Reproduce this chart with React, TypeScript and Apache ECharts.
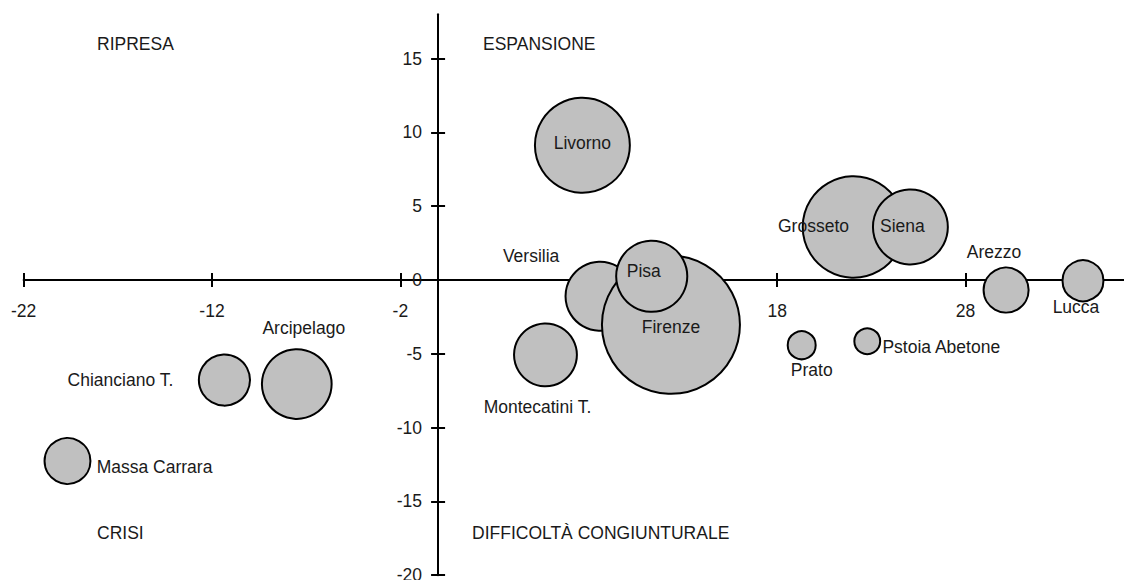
import React, { useEffect, useRef } from "react";
import * as echarts from "echarts";

const names = [
  "Livorno", "Montecatini T.", "Versilia", "Firenze", "Pisa", "Grosseto", "Siena",
  "Arezzo", "Lucca", "Prato", "Pstoia Abetone", "Chianciano T.", "Arcipelago", "Massa Carrara",
];
const xValues = [7.66, 5.7, 8.6, 12.36, 11.34, 22.05, 25.07, 30.15, 34.23, 19.3, 22.78, -11.34, -7.5, -19.67];
const yValues = [9.13, -5.07, -1.1, -3.04, 0.25, 3.59, 3.59, -0.68, -0.05, -4.42, -4.15, -6.78, -7.05, -12.26];
const weights = [230, 102, 123, 483, 130, 263, 144, 53, 44, 21, 18, 68, 125, 55];

const xTicks = [-22, -12, -2, 8, 18, 28];
const yTicks = [-20, -15, -10, -5, 0, 5, 10, 15];

const quadrantLabels = ["RIPRESA", "ESPANSIONE", "CRISI", "DIFFICOLTÀ CONGIUNTURALE"];

// label placement (layout, px offsets from bubble centre)
const labelOffsets: Record<string, [number, number]> = {
  "Livorno": [0, -2],
  "Montecatini T.": [-8, 52],
  "Versilia": [-69, -40],
  "Firenze": [0, 2],
  "Pisa": [-8, -5],
  "Grosseto": [-40, -1],
  "Siena": [-8, -1],
  "Arezzo": [-12, -38],
  "Lucca": [-7, 26],
  "Prato": [10, 25],
  "Pstoia Abetone": [74, 6],
  "Chianciano T.": [-104, 0],
  "Arcipelago": [7, -56],
  "Massa Carrara": [87, 6],
};

const FONT = "'Liberation Sans', Arial, sans-serif";
const FS = 17.5;
const TXT = "#1a1a1a";

// layout
const W = 1160, H = 580;
const X_MIN = -22, X_MAX = 38, Y_MIN = -20, Y_MAX = 18;
const G_LEFT = 23.6, G_RIGHT = 6, G_TOP = 14.3, G_BOTTOM = 4.8;

export default function App() {
  const ref = useRef<HTMLDivElement>(null);
  useEffect(() => {
    document.body.style.margin = "0";
    if (!ref.current) return;
    const chart = echarts.init(ref.current, undefined, { renderer: "svg" });
    const gw = W - G_LEFT - G_RIGHT;
    const gh = H - G_TOP - G_BOTTOM;
    const xOffset = -((0 - Y_MIN) / (Y_MAX - Y_MIN)) * gh; // move x axis up to y=0
    const yOffset = -((0 - X_MIN) / (X_MAX - X_MIN)) * gw; // move y axis right to x=0
    const tickStyle = { color: "#000", width: 2 };
    const data = names.map((n, i) => ({
      name: n,
      value: [xValues[i], yValues[i]],
      symbolSize: 2 * Math.sqrt(weights[i] * 10) - 1,
      label: {
        show: true,
        position: "inside",
        offset: labelOffsets[n],
        formatter: n,
      },
    }));
    chart.setOption({
      animation: false,
      grid: { left: G_LEFT, right: G_RIGHT, top: G_TOP, bottom: G_BOTTOM, outerBoundsMode: "none", containLabel: false },
      textStyle: { fontFamily: FONT },
      xAxis: [
        {
          type: "value", min: X_MIN, max: X_MAX, position: "bottom", offset: xOffset,
          axisLine: { show: true, onZero: false, lineStyle: { color: "#000", width: 2 } },
          splitLine: { show: false },
          axisTick: { show: true, inside: false, length: 7, customValues: xTicks, lineStyle: tickStyle },
          axisLabel: { show: true, customValues: xTicks, margin: 22, fontSize: FS, fontFamily: FONT, color: TXT },
        },
        {
          type: "value", min: X_MIN, max: X_MAX, position: "bottom", offset: xOffset,
          axisLine: { show: false, onZero: false },
          splitLine: { show: false },
          axisTick: { show: true, inside: true, length: 7, customValues: xTicks, lineStyle: tickStyle },
          axisLabel: { show: false },
        },
      ],
      yAxis: [
        {
          type: "value", min: Y_MIN, max: Y_MAX, position: "left", offset: yOffset,
          axisLine: { show: true, onZero: false, lineStyle: { color: "#000", width: 2 } },
          splitLine: { show: false },
          axisTick: { show: true, inside: false, length: 7, customValues: yTicks, lineStyle: tickStyle },
          axisLabel: { show: true, customValues: yTicks, margin: 16, fontSize: FS, fontFamily: FONT, color: TXT },
        },
        {
          type: "value", min: Y_MIN, max: Y_MAX, position: "left", offset: yOffset,
          axisLine: { show: false, onZero: false },
          splitLine: { show: false },
          axisTick: { show: true, inside: true, length: 7, customValues: yTicks, lineStyle: tickStyle },
          axisLabel: { show: false },
        },
      ],
      graphic: [
        { type: "text", left: 97, top: 35, style: { text: quadrantLabels[0], font: `${FS}px ${FONT}`, fill: TXT } },
        { type: "text", left: 483, top: 35, style: { text: quadrantLabels[1], font: `${FS}px ${FONT}`, fill: TXT } },
        { type: "text", left: 97, top: 524, style: { text: quadrantLabels[2], font: `${FS}px ${FONT}`, fill: TXT } },
        { type: "text", left: 472, top: 524, style: { text: quadrantLabels[3], font: `${FS}px ${FONT}`, fill: TXT } },
      ],
      series: [
        {
          type: "scatter",
          xAxisIndex: 0,
          yAxisIndex: 0,
          symbol: "circle",
          data,
          itemStyle: { color: "#c0c0c0", borderColor: "#000", borderWidth: 2, opacity: 1 },
          label: { color: TXT, fontSize: FS, fontFamily: FONT },
          emphasis: { disabled: true },
        },
      ],
    });
    return () => chart.dispose();
  }, []);
  return (
    <div style={{ width: 1124, height: 580, overflow: "hidden", position: "relative" }}>
      <div ref={ref} style={{ width: W, height: H }} />
    </div>
  );
}
